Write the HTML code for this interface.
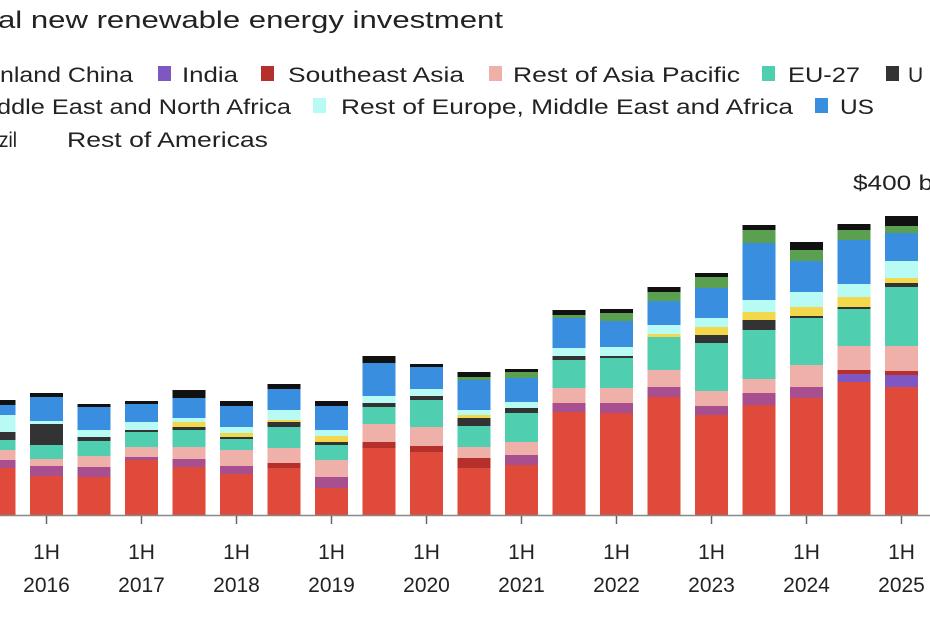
<!DOCTYPE html>
<html><head><meta charset="utf-8"><style>
body{margin:0;background:#fff;}
svg{display:block;font-family:"Liberation Sans",sans-serif;}
</style></head><body>
<svg id="s" width="930" height="620" viewBox="0 0 930 620">
<text x="-2" y="28" font-size="24" fill="#222" textLength="505" lengthAdjust="spacingAndGlyphs">al new renewable energy investment</text>
<g font-size="21" fill="#222">
<text x="0" y="82" textLength="133" lengthAdjust="spacingAndGlyphs">nland China</text>
<rect x="158" y="66" width="13" height="15" fill="#7e57c2"/><text x="182" y="82" textLength="56" lengthAdjust="spacingAndGlyphs">India</text>
<rect x="261" y="66" width="13" height="15" fill="#b5302a"/><text x="288" y="82" textLength="176" lengthAdjust="spacingAndGlyphs">Southeast Asia</text>
<rect x="489" y="66" width="13" height="15" fill="#f0b0aa"/><text x="513" y="82" textLength="227" lengthAdjust="spacingAndGlyphs">Rest of Asia Pacific</text>
<rect x="762" y="66" width="13" height="15" fill="#4fcfb0"/><text x="788" y="82" textLength="72" lengthAdjust="spacingAndGlyphs">EU-27</text>
<rect x="886" y="66" width="13" height="15" fill="#333"/><text x="908" y="82">U</text>
<text x="-3" y="114" textLength="294" lengthAdjust="spacingAndGlyphs">ddle East and North Africa</text>
<rect x="313" y="98" width="13" height="15" fill="#b8fbf5"/><text x="341" y="114" textLength="452" lengthAdjust="spacingAndGlyphs">Rest of Europe, Middle East and Africa</text>
<rect x="815" y="98" width="13" height="15" fill="#3a8ee0"/><text x="840" y="114" textLength="34" lengthAdjust="spacingAndGlyphs">US</text>
<text x="-1" y="147" textLength="18" lengthAdjust="spacingAndGlyphs">zil</text>
<text x="67" y="147" textLength="201" lengthAdjust="spacingAndGlyphs">Rest of Americas</text>
<text x="853" y="190" textLength="80" lengthAdjust="spacingAndGlyphs">$400 b</text>
</g>
<g id="bars"></g>
<line x1="0" y1="515.5" x2="930" y2="515.5" stroke="#888" stroke-width="1.5"/>
<g id="ax" font-size="21" fill="#222" text-anchor="middle"></g>
</svg>
<script>
var C={k:"#111",g:"#5aa050",b:"#3a8ee0",c:"#b8fbf5",y:"#f2d84a",d:"#333",t:"#4fcfb0",p:"#f0b0aa",m:"#a8508f",s:"#b5302a",u:"#7e57c2",r:"#e04a3a"};
var B=[
[[400,'k'],[405,'b'],[415,'c'],[432,'d'],[440,'t'],[450,'p'],[460,'m'],[468,'r']],
[[393,'k'],[397,'b'],[421,'c'],[424,'d'],[445,'t'],[459,'p'],[466,'m'],[476,'r']],
[[404,'k'],[407,'b'],[430,'c'],[437,'d'],[441,'t'],[456,'p'],[467,'m'],[477,'r']],
[[401,'k'],[404,'b'],[422,'c'],[430,'d'],[432,'t'],[447,'p'],[457,'m'],[460,'r']],
[[390,'k'],[398,'b'],[418,'c'],[422,'y'],[427,'d'],[430,'t'],[447,'p'],[459,'m'],[467,'r']],
[[401,'k'],[406,'b'],[427,'c'],[433,'y'],[437,'d'],[439,'t'],[450,'p'],[466,'m'],[474,'r']],
[[384,'k'],[389,'b'],[410,'c'],[420,'y'],[422,'d'],[427,'t'],[448,'p'],[463,'s'],[468,'r']],
[[401,'k'],[406,'b'],[430,'c'],[436,'y'],[442,'d'],[445,'t'],[460,'p'],[477,'m'],[488,'r']],
[[356,'k'],[363,'b'],[396,'c'],[403,'d'],[407,'t'],[424,'p'],[442,'s'],[448,'r']],
[[364,'k'],[367,'b'],[389,'c'],[396,'d'],[400,'t'],[427,'p'],[446,'s'],[452,'r']],
[[372,'k'],[377,'g'],[380,'b'],[410,'c'],[415,'y'],[418,'d'],[426,'t'],[447,'p'],[458,'s'],[468,'r']],
[[369,'k'],[372,'g'],[378,'b'],[402,'c'],[408,'d'],[413,'t'],[442,'p'],[455,'m'],[465,'r']],
[[310,'k'],[315,'g'],[318,'b'],[348,'c'],[356,'d'],[360,'t'],[388,'p'],[403,'m'],[412,'r']],
[[309,'k'],[313,'g'],[321,'b'],[347,'c'],[356,'d'],[358,'t'],[388,'p'],[403,'m'],[413,'r']],
[[287,'k'],[292,'g'],[301,'b'],[325,'c'],[334,'y'],[337,'t'],[370,'p'],[387,'m'],[397,'r']],
[[273,'k'],[277,'g'],[288,'b'],[318,'c'],[327,'y'],[335,'d'],[343,'t'],[391,'p'],[406,'m'],[415,'r']],
[[225,'k'],[230,'g'],[243,'b'],[300,'c'],[312,'y'],[320,'d'],[330,'t'],[379,'p'],[393,'m'],[405,'r']],
[[242,'k'],[250,'g'],[261,'b'],[292,'c'],[307,'y'],[316,'d'],[318,'t'],[365,'p'],[387,'m'],[398,'r']],
[[224,'k'],[230,'g'],[240,'b'],[284,'c'],[297,'y'],[307,'d'],[309,'t'],[346,'p'],[370,'s'],[374,'u'],[382,'r']],
[[216,'k'],[226,'g'],[233,'b'],[261,'c'],[278,'y'],[283,'d'],[287,'t'],[346,'p'],[371,'s'],[375,'u'],[387,'r']]
];
var ns="http://www.w3.org/2000/svg",g=document.getElementById("bars"),ax=document.getElementById("ax");
function el(n,a,p){var e=document.createElementNS(ns,n);for(var k in a)e.setAttribute(k,a[k]);p.appendChild(e);return e;}
B.forEach(function(bar,i){var x=-17.5+47.5*i;
 bar.forEach(function(s,j){var y2=j+1<bar.length?bar[j+1][0]:515;
  el("rect",{x:x,y:s[0],width:33,height:y2-s[0],fill:C[s[1]]},g);});
});
var yrs=[2016,2017,2018,2019,2020,2021,2022,2023,2024,2025];
yrs.forEach(function(yr,k){var cx=-1+47.5*(2*k+1);
 el("line",{x1:cx,y1:516,x2:cx,y2:524,stroke:"#666","stroke-width":1.5},ax);
 el("text",{x:cx,y:559},ax).textContent="1H";
 el("text",{x:cx,y:592},ax).textContent=yr;
});
</script>
</body></html>
